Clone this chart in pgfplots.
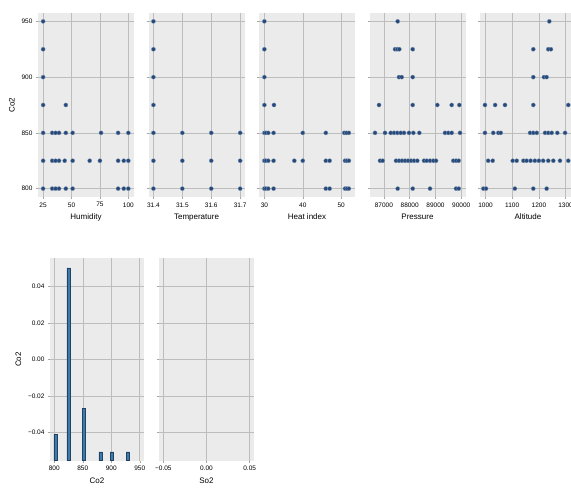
\documentclass[border=0pt]{standalone}
\usepackage{fontspec}
\setmainfont{Liberation Sans}
\usepackage{pgfplots}
\pgfplotsset{compat=1.18}
\definecolor{bgc}{HTML}{EBEBEB}
\definecolor{gridc}{HTML}{BDBDBD}
\definecolor{ptc}{HTML}{24497A}
\definecolor{barc}{HTML}{3A7BB0}
\definecolor{baredge}{HTML}{24425F}
\pgfplotsset{
 base/.style={scale only axis, anchor=south west, axis background/.style={fill=bgc},
   grid=major, major grid style={draw=gridc, line width=0.5pt},
   axis line style={draw=none}, tick pos=left, tick align=outside,
   major tick length=2pt, tick style={draw=gray!70, line width=0.4pt},
   scaled ticks=false,
   ticklabel style={font=\fontsize{6.5}{7}\selectfont},
   label style={font=\fontsize{8}{9}\selectfont}},
 toprow/.style={base, width=96pt, height=184pt, ymin=792.5, ymax=957.5,
   ytick={800,850,900,950}, yticklabels={}},
 pts/.style={only marks, mark=*, mark size=2.1pt,
   mark options={fill=ptc, draw=ptc!55!white, line width=0.3pt}},
}
\begin{document}
\begin{tikzpicture}
\useasboundingbox (0,0) rectangle (571pt,500pt);
% Humidity
\begin{axis}[toprow, at={(38pt,303pt)}, xmin=20.5, xmax=105,
  xtick={25,50,75,100}, xticklabels={25,50,75,100},
  yticklabels={800,850,900,950}, xlabel={Humidity}, ylabel={Co2}]
\addplot[pts] coordinates {
(25,950) (25,925) (25,900) (25,875) (45,875)
(25,850) (33,850) (36,850) (39,850) (45,850) (51,850) (76,850) (91,850) (100,850)
(25,825) (33,825) (36,825) (39,825) (44,825) (51,825) (66,825) (75,825) (91,825) (96,825) (100,825)
(25,800) (33,800) (36,800) (39,800) (45,800) (51,800) (91,800) (96,800) (100,800)};
\end{axis}
% Temperature
\begin{axis}[toprow, at={(148.5pt,303pt)}, xmin=31.383, xmax=31.715,
  xtick={31.4,31.5,31.6,31.7}, xticklabels={31.4,31.5,31.6,31.7}, xlabel={Temperature}]
\addplot[pts] coordinates {
(31.4,950) (31.4,925) (31.4,900) (31.4,875)
(31.4,850) (31.5,850) (31.6,850) (31.7,850)
(31.4,825) (31.5,825) (31.6,825) (31.7,825)
(31.4,800) (31.5,800) (31.6,800) (31.7,800)};
\end{axis}
% Heat index
\begin{axis}[toprow, at={(259pt,303pt)}, xmin=28.6, xmax=53.6,
  xtick={30,40,50}, xticklabels={30,40,50}, xlabel={Heat index}]
\addplot[pts] coordinates {
(30,950) (30,925) (30,900) (30,875) (32.5,875)
(30,850) (30.4,850) (31,850) (32.4,850) (40,850) (46,850) (50.8,850) (51.4,850) (52,850)
(30,825) (30.4,825) (31,825) (32.4,825) (37.8,825) (40,825) (46,825) (47,825) (51,825) (51.5,825) (52,825)
(30,800) (30.4,800) (31,800) (32.4,800) (46,800) (47,800) (51,800) (51.5,800) (52,800)};
\end{axis}
% Pressure
\begin{axis}[toprow, at={(369.5pt,303pt)}, xmin=86441, xmax=90166,
  xtick={87000,88000,89000,90000}, xticklabels={87000,88000,89000,90000}, xlabel={Pressure}]
\addplot[pts] coordinates {
(87535,950)
(87431,925) (87520,925) (87598,925) (88118,925)
(87586,900) (87691,900) (88118,900)
(86810,875) (88118,875) (89072,875) (89631,875) (89926,875)
(86655,850) (87043,850) (87264,850) (87392,850) (87520,850) (87652,850) (87780,850) (87974,850) (88141,850) (88374,850) (89371,850) (89499,850) (89631,850) (89953,850)
(86849,825) (86953,825) (87470,825) (87586,825) (87702,825) (87819,825) (87935,825) (88052,825) (88168,825) (88296,825) (88556,825) (88661,825) (88789,825) (88917,825) (89022,825) (89693,825) (89798,825) (89903,825)
(87535,800) (88118,800) (88789,800) (89798,800) (89903,800)};
\end{axis}
% Altitude
\begin{axis}[toprow, at={(480pt,303pt)}, xmin=979.4, xmax=1339,
  xtick={1000,1100,1200,1300}, xticklabels={1000,1100,1200,1300}, xlabel={Altitude}]
\addplot[pts] coordinates {
(1239,950)
(1179,925) (1235,925) (1245,925)
(1179,900) (1219,900) (1229,900)
(998,875) (1036,875) (1073,875) (1179,875) (1310,875)
(998,850) (1029,850) (1048,850) (1057,850) (1167,850) (1179,850) (1192,850) (1223,850) (1235,850) (1248,850) (1269,850) (1298,850)
(1010,825) (1027,825) (1102,825) (1117,825) (1142,825) (1154,825) (1169,825) (1185,825) (1200,825) (1216,825) (1235,825) (1254,825) (1279,825) (1310,825)
(992,800) (1002,800) (1110,800) (1179,800) (1229,800)};
\end{axis}
% Co2 histogram: grid axis
\begin{axis}[base, width=94pt, height=202.4pt, at={(50pt,39.3pt)},
  xmin=792.5, xmax=957.5, ymin=-0.0555, ymax=0.0555,
  xtick={800,850,900,950}, xticklabels={800,850,900,950},
  ytick={-0.04,-0.02,0,0.02,0.04}, yticklabels={−0.04,−0.02,0.00,0.02,0.04},
  xlabel={Co2}, ylabel={Co2}]
\addplot[draw=none] coordinates {(800,0)};
\end{axis}
% Co2 histogram: counts
\begin{axis}[scale only axis, anchor=south west, width=94pt, height=202.4pt, at={(50pt,39.3pt)},
  xmin=792.5, xmax=957.5, ymin=0, ymax=23.1, hide axis, ybar, bar width=5.5, bar shift=0pt]
\addplot[fill=barc, draw=baredge, line width=0.4pt] coordinates {
(802,3) (825,22) (852,6) (881,1) (901,1) (929,1)};
\end{axis}
% So2
\begin{axis}[base, width=95pt, height=202.4pt, at={(159pt,39.3pt)},
  xmin=-0.055, xmax=0.055, ymin=-0.0555, ymax=0.0555,
  xtick={-0.05,0,0.05}, xticklabels={−0.05,0.00,0.05},
  ytick={-0.04,-0.02,0,0.02,0.04}, yticklabels={}, xlabel={So2}]
\addplot[draw=none] coordinates {(0,0)};
\end{axis}
\end{tikzpicture}
\end{document}
